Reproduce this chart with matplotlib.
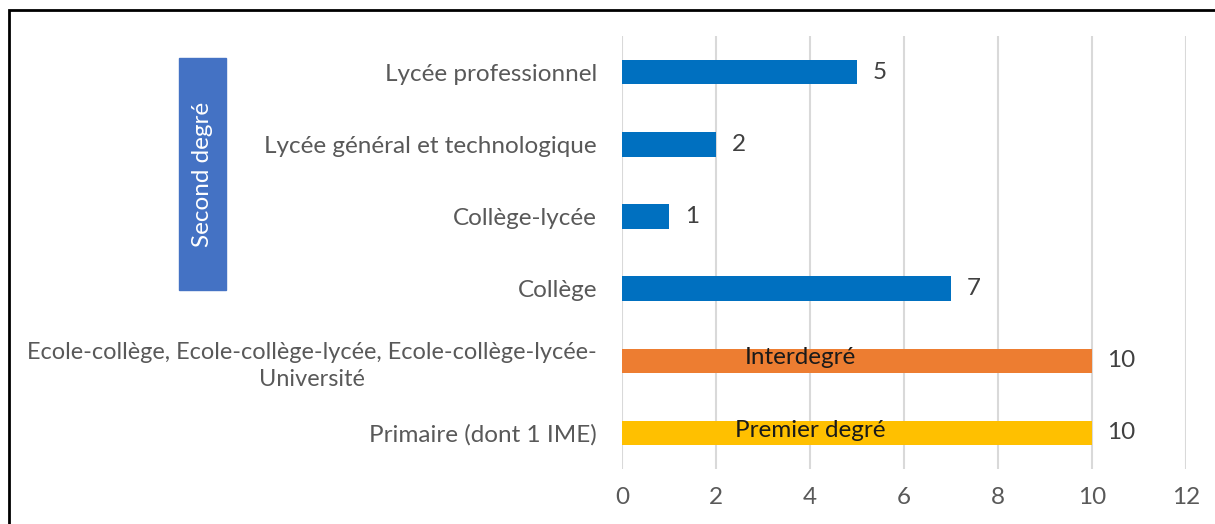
import numpy as np
import matplotlib.pyplot as plt
from matplotlib.patches import Rectangle

# data, bottom to top as drawn
categories = ['Primaire (dont 1 IME)',
              'Ecole-collège, Ecole-collège-lycée, Ecole-collège-lycée-\nUniversité',
              'Collège', 'Collège-lycée', 'Lycée général et technologique',
              'Lycée professionnel']
values = [10, 10, 7, 1, 2, 5]
bar_colors = ['#FFC000', '#ED7D31', '#0070C0', '#0070C0', '#0070C0', '#0070C0']
bar_notes = ['Premier degré', 'Interdegré', '', '', '', '']
note_pos = [4.0, 3.8, 0, 0, 0, 0]
xticks = [0, 2, 4, 6, 8, 10, 12]

plt.rcParams['font.family'] = ['Lato', 'DejaVu Sans']
txt = '#595959'
fs = 17.5

fig = plt.figure(figsize=(12.15, 5.24), dpi=100)
ax = fig.add_axes([0.512, 0.105, 0.464, 0.826])

y = np.arange(len(categories))
ax.barh(y, values, height=0.34, color=bar_colors, zorder=3)

for yi, v, note, nx in zip(y, values, bar_notes, note_pos):
    ax.text(v + 0.33, yi, str(v), va='center', ha='left', fontsize=fs, color='#404040')
    if note:
        ax.text(nx, yi + 0.04, note, va='center', ha='center', fontsize=fs, color='#1a1a1a')

ax.set_yticks(y)
ax.set_yticklabels(categories, fontsize=fs, color=txt, multialignment='center',
                   linespacing=1.35)
# the long two-line label is a touch narrower in the original
ax.get_yticklabels()[1].set_fontsize(16.9)
ax.set_xticks(xticks)
ax.set_xticklabels([str(t) for t in xticks], fontsize=fs, color=txt)
ax.set_xlim(0, 12)
ax.set_ylim(-0.5, 5.5)
ax.tick_params(axis='x', length=0, pad=13)
ax.tick_params(axis='y', length=0, pad=18)
ax.grid(axis='x', color='#D9D9D9', lw=1.5, zorder=0)
for s in ax.spines.values():
    s.set_visible(False)

# "Second degré" bracket box
fig.patches.append(Rectangle((179 / 1215, 1 - 290 / 524), 47 / 1215, 232 / 524,
                             transform=fig.transFigure, color='#4472C4', zorder=2))
fig.text(202.5 / 1215, 1 - 174 / 524, 'Second degré', rotation=90, ha='center', va='center',
         fontsize=fs, color='white')

# outer frame
fig.patches.append(Rectangle((9 / 1215, -0.1), 1.2, 1 - 10 / 524 + 0.1,
                             transform=fig.transFigure, fill=False, ec='black', lw=2))

fig.savefig('out.png', dpi=100)
